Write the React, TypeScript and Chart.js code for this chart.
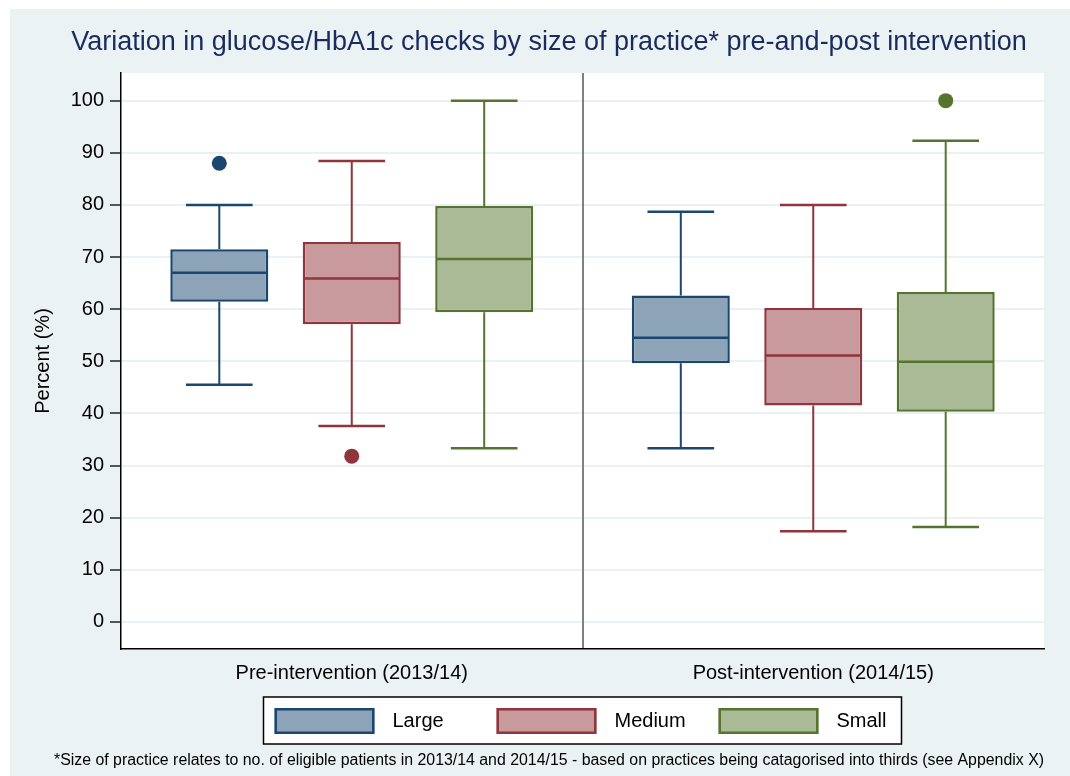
import { useEffect, useRef } from 'react';
import { Chart, registerables } from 'chart.js';

Chart.register(...registerables);

// ---------- data ----------
const periods = ['Pre-intervention (2013/14)', 'Post-intervention (2014/15)'];
const sizes = ['Large', 'Medium', 'Small'];
// each array: [size][period]
const whiskerLow = [[45.5, 33.3], [37.6, 17.4], [33.3, 18.2]];
const quartile1 = [[61.4, 49.6], [57.1, 41.5], [59.4, 40.3]];
const medians = [[67.0, 54.5], [65.9, 51.1], [69.6, 49.9]];
const quartile3 = [[71.5, 62.6], [72.9, 60.2], [79.8, 63.3]];
const whiskerHigh = [[80.0, 78.7], [88.4, 80.0], [100.0, 92.3]];
const outliers = [[[88.0], []], [[31.8], []], [[], [100.0]]];
const yTicks = [0, 10, 20, 30, 40, 50, 60, 70, 80, 90, 100];

const titleText = 'Variation in glucose/HbA1c checks by size of practice* pre-and-post intervention';
const noteText = '*Size of practice relates to no. of eligible patients in 2013/14 and 2014/15 - based on practices being catagorised into thirds (see Appendix X)';
const yTitle = 'Percent (%)';

// ---------- style ----------
const strokes = ['#1a476f', '#90353b', '#55752f'];
const fills = ['#8da3b7', '#c89a9d', '#aaba97'];
const FONT = "'Liberation Sans', Arial, sans-serif";

const plotBgPlugin = {
  id: 'plotBg',
  beforeDraw(chart: any) {
    const { ctx, chartArea: a } = chart;
    ctx.save();
    ctx.fillStyle = '#ffffff';
    ctx.fillRect(a.left, a.top, a.right - a.left, a.bottom - a.top);
    ctx.restore();
  },
};

const boxPlugin = {
  id: 'boxWhiskers',
  beforeDatasetsDraw(chart: any) {
    const { ctx } = chart;
    const y = chart.scales.y;
    ctx.save();
    sizes.forEach((_, i) => {
      const meta = chart.getDatasetMeta(i);
      meta.data.forEach((bar: any, j: number) => {
        const { x, width } = bar.getProps(['x', 'width'], true);
        const cap = width * 0.68;
        ctx.strokeStyle = strokes[i];
        ctx.lineWidth = 2;
        const yq1 = y.getPixelForValue(quartile1[i][j]);
        const yq3 = y.getPixelForValue(quartile3[i][j]);
        const ylo = y.getPixelForValue(whiskerLow[i][j]);
        const yhi = y.getPixelForValue(whiskerHigh[i][j]);
        ctx.beginPath();
        ctx.moveTo(x, yq3);
        ctx.lineTo(x, yhi);
        ctx.moveTo(x, yq1);
        ctx.lineTo(x, ylo);
        ctx.stroke();
        ctx.lineWidth = 2.5;
        ctx.beginPath();
        ctx.moveTo(x - cap / 2, yhi);
        ctx.lineTo(x + cap / 2, yhi);
        ctx.moveTo(x - cap / 2, ylo);
        ctx.lineTo(x + cap / 2, ylo);
        ctx.stroke();
      });
    });
    ctx.restore();
  },
  afterDatasetsDraw(chart: any) {
    const { ctx } = chart;
    const y = chart.scales.y;
    ctx.save();
    sizes.forEach((_, i) => {
      const meta = chart.getDatasetMeta(i);
      meta.data.forEach((bar: any, j: number) => {
        const { x, width } = bar.getProps(['x', 'width'], true);
        const ym = y.getPixelForValue(medians[i][j]);
        ctx.strokeStyle = strokes[i];
        ctx.lineWidth = 2.5;
        ctx.beginPath();
        ctx.moveTo(x - width / 2 + 1, ym);
        ctx.lineTo(x + width / 2 - 1, ym);
        ctx.stroke();
        ctx.fillStyle = strokes[i];
        outliers[i][j].forEach((v: number) => {
          ctx.beginPath();
          ctx.arc(x, y.getPixelForValue(v), 7.5, 0, Math.PI * 2);
          ctx.fill();
        });
      });
    });
    ctx.restore();
  },
};

const legendPlugin = {
  id: 'boxLegend',
  afterDraw(chart: any) {
    const { ctx, chartArea: a } = chart;
    const cx = (a.left + a.right) / 2;
    const w = 638;
    const h = 47;
    const left = cx - w / 2;
    const top = a.bottom + 48;
    ctx.save();
    ctx.fillStyle = '#ffffff';
    ctx.fillRect(left, top, w, h);
    ctx.strokeStyle = '#000000';
    ctx.lineWidth = 1.5;
    ctx.strokeRect(left, top, w, h);
    ctx.font = `20px ${FONT}`;
    ctx.textBaseline = 'middle';
    ctx.textAlign = 'left';
    sizes.forEach((s, i) => {
      const sx = left + 11 + i * 222;
      const sy = top + 11;
      ctx.fillStyle = fills[i];
      ctx.fillRect(sx, sy, 100, 26);
      ctx.strokeStyle = strokes[i];
      ctx.lineWidth = 2.5;
      ctx.strokeRect(sx + 1.25, sy + 1.25, 97.5, 23.5);
      ctx.fillStyle = '#000000';
      ctx.fillText(s, sx + 118, top + h / 2 + 1);
    });
    ctx.restore();
  },
};

export default function App() {
  const ref = useRef<HTMLCanvasElement | null>(null);

  useEffect(() => {
    if (!ref.current) return;
    const chart = new Chart(ref.current, {
      type: 'bar',
      data: {
        labels: periods,
        datasets: sizes.map((s, i) => ({
          label: s,
          data: periods.map((_, j) => [quartile1[i][j], quartile3[i][j]]),
          backgroundColor: fills[i],
          borderColor: strokes[i],
          borderWidth: 2.5,
          borderSkipped: false,
          categoryPercentage: 0.861,
          barPercentage: 0.74,
        })),
      },
      options: {
        responsive: false,
        animation: false,
        devicePixelRatio: 1,
        layout: { padding: { left: 44, right: 26, top: 0, bottom: 0 } },
        plugins: {
          legend: { display: false },
          tooltip: { enabled: false },
          title: {
            display: true,
            text: titleText,
            color: '#1a2b5e',
            font: { family: FONT, size: 27, weight: 'normal' },
            padding: { top: 17, bottom: 14.6 },
          },
          subtitle: {
            display: true,
            position: 'bottom',
            text: noteText,
            color: '#000000',
            font: { family: FONT, size: 16, weight: 'normal' },
            padding: { top: 56.8, bottom: 6 },
          },
        },
        scales: {
          x: {
            type: 'category',
            offset: true,
            grid: {
              z: -1,
              offset: true,
              drawTicks: false,
              lineWidth: 2,
              color: (c: any) => (c.index === 1 ? '#808080' : 'rgba(0,0,0,0)'),
            },
            border: { display: true, color: '#000000', width: 1.5 },
            ticks: {
              color: '#000000',
              font: { family: FONT, size: 20 },
              padding: 12,
            },
            afterFit: (scale: any) => {
              scale.height = 45;
            },
          },
          y: {
            type: 'linear',
            min: -5.2,
            max: 105.3,
            afterBuildTicks: (scale: any) => {
              scale.ticks = yTicks.map((v) => ({ value: v }));
            },
            grid: {
              z: -2,
              color: '#eaf1f3',
              lineWidth: 2,
              tickColor: '#222222',
              tickLength: 11,
              tickWidth: 1.5,
            },
            border: { display: true, color: '#000000', width: 1.5 },
            ticks: {
              color: '#000000',
              font: { family: FONT, size: 20 },
              padding: 6,
            },
            title: {
              display: true,
              text: yTitle,
              color: '#000000',
              font: { family: FONT, size: 20 },
              padding: { top: -23, bottom: 0 },
            },
            afterFit: (scale: any) => {
              scale.width = 67;
            },
          },
        },
      },
      plugins: [plotBgPlugin, boxPlugin, legendPlugin],
    } as any);
    return () => chart.destroy();
  }, []);

  return (
    <div style={{ position: 'absolute', left: 0, top: 0, width: 1070, height: 776, background: '#ffffff', overflow: 'hidden' }}>
      <div style={{ position: 'absolute', left: 10, top: 9, width: 1060, height: 767, background: '#eaf2f3' }}>
        <canvas ref={ref} width={1060} height={767} style={{ display: 'block', width: 1060, height: 767 }} />
      </div>
    </div>
  );
}
